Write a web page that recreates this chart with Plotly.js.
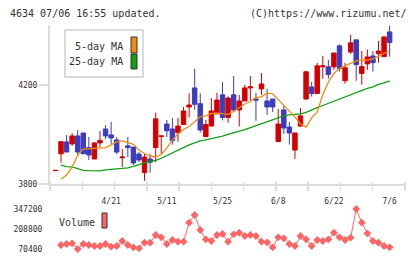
<!DOCTYPE html>
<html>
<head>
<meta charset="utf-8">
<script src="https://cdn.plot.ly/plotly-3.0.1.min.js"></script>
<style>
  html, body { margin: 0; padding: 0; background: #ffffff; }
  #chart { width: 420px; height: 259px; }
</style>
</head>
<body>
<div id="chart"></div>
<script>
// Trading days, 2020-04-07 .. 2020-07-06
const dates = [
  '4/7','4/8','4/9','4/10','4/13','4/14','4/15','4/16','4/17','4/20',
  '4/21','4/22','4/23','4/24','4/27','4/28','4/30','5/1','5/7','5/8',
  '5/11','5/12','5/13','5/14','5/15','5/18','5/19','5/20','5/21','5/22',
  '5/25','5/26','5/27','5/28','5/29','6/1','6/2','6/3','6/4','6/5',
  '6/8','6/9','6/10','6/11','6/12','6/15','6/16','6/17','6/18','6/19',
  '6/22','6/23','6/24','6/25','6/26','6/29','6/30','7/1','7/2','7/3',
  '7/6'
];

const openPx = [
  3854, 3922, 3970, 3962, 3994, 4006, 3947, 3901, 3966, 4022,
  3998, 3978, 3906, 3954, 3949, 3921, 3846, 3901, 3947, 3992,
  4042, 4022, 4007, 4040, 4111, 4188, 4124, 3991, 4034, 4083,
  4160, 4069, 4160, 4099, 4135, 4188, 4143, 4184, 4135, 4143,
  3971, 4099, 4030, 3937, 4034, 4143, 4192, 4165, 4273, 4273,
  4273, 4358, 4217, 4333, 4382, 4246, 4285, 4317, 4326, 4314,
  4414
];
const highPx = [
  3855, 3971, 3998, 4005, 4018, 4006, 3990, 3966, 4014, 4038,
  4051, 3990, 3941, 3990, 3949, 3929, 3923, 3921, 4088, 3994,
  4059, 4067, 4067, 4111, 4166, 4265, 4166, 4059, 4147, 4168,
  4212, 4154, 4236, 4160, 4200, 4236, 4168, 4248, 4184, 4143,
  4103, 4117, 4051, 4006, 4107, 4257, 4212, 4289, 4317, 4301,
  4329, 4363, 4289, 4402, 4382, 4337, 4343, 4337, 4378, 4394,
  4440
];
const lowPx = [
  3854, 3886, 3929, 3954, 3913, 3922, 3897, 3901, 3949, 3982,
  3962, 3921, 3869, 3909, 3877, 3889, 3813, 3846, 3888, 3921,
  3990, 3959, 3971, 4040, 4069, 4099, 4008, 3991, 4032, 4083,
  4057, 4048, 4092, 4032, 4135, 4137, 4055, 4160, 4079, 4091,
  3971, 4002, 3959, 3901, 4030, 4143, 4153, 4165, 4225, 4225,
  4261, 4254, 4205, 4325, 4217, 4201, 4261, 4254, 4290, 4314,
  4314
];
const closePx = [
  3855, 3971, 3929, 3994, 3929, 3922, 3917, 3966, 3976, 3994,
  3986, 3929, 3909, 3947, 3885, 3897, 3909, 3888, 4063, 3994,
  4015, 3975, 4034, 4095, 4119, 4122, 4018, 4040, 4095, 4139,
  4069, 4147, 4099, 4135, 4188, 4192, 4139, 4204, 4111, 4111,
  4042, 4026, 4006, 4006, 4075, 4253, 4165, 4277, 4277, 4242,
  4329, 4266, 4269, 4370, 4282, 4274, 4313, 4290, 4337, 4394,
  4371
];

// Moving averages
const ma5 = [
  null, 3819, 3836, 3869, 3917, 3941, 3943, 3944, 3945, 3947,
  3958, 3970, 3974, 3967, 3960, 3937, 3923, 3913, 3909, 3919,
  3945, 3978, 4002, 4020, 4032, 4051, 4071, 4075, 4085, 4086,
  4085, 4081, 4093, 4109, 4123, 4133, 4149, 4152, 4168, 4164,
  4141, 4115, 4093, 4071, 4042, 4030, 4067, 4091, 4160, 4212,
  4246, 4267, 4277, 4288, 4297, 4301, 4300, 4305, 4317, 4328,
  4335
];
const ma25 = [
  null, 3876, 3870, 3869, 3863, 3855, 3854, 3853, 3853, 3857,
  3859, 3863, 3865, 3865, 3871, 3879, 3885, 3891, 3895, 3904,
  3915, 3927, 3939, 3949, 3958, 3966, 3974, 3978, 3982, 3988,
  3993, 4000, 4006, 4014, 4020, 4028, 4036, 4046, 4053, 4061,
  4069, 4075, 4079, 4081, 4083, 4089, 4097, 4108, 4117, 4126,
  4134, 4141, 4153, 4162, 4171, 4178, 4186, 4192, 4202, 4208,
  4216
];

const volume = [
  null, 98000, 105000, 109800, 70400, 105000, 98000, 91200, 91200, 105000,
  86300, 91200, 125800, 98000, 82200, 75200, 114000, 114000, 167300, 151400,
  105000, 132700, 121000, 121000, 252400, 305700, 201900, 137500, 125800, 167300,
  174200, 121000, 172100, 183200, 160400, 167300, 160400, 121000, 116800, 82200,
  151400, 144400, 105000, 91200, 160400, 137500, 91200, 132700, 125800, 137500,
  183200, 151400, 132700, 148600, 347200, 252400, 179100, 125800, 114000, 91200,
  82200
];

const dateTicks = ['4/21', '5/11', '5/25', '6/8', '6/22', '7/6'];
const priceTicks = [3800, 4200];
const volumeTicks = [70400, 208800, 347200];

const MONO = 'DejaVu Sans Mono, monospace';
const TXT = '#333333';
const AXIS = '#dcdcdc';
const UP = '#d40000';
const DOWN = '#3c3cbe';
const ORANGE = '#f08c10';
const GREEN = '#12a012';
const VOLC = '#ff6464';

const xRange = [-0.975, 62.76];

const traces = [
  {
    type: 'candlestick',
    x: dates, open: openPx, high: highPx, low: lowPx, close: closePx,
    xaxis: 'x', yaxis: 'y',
    increasing: { line: { color: UP, width: 1 }, fillcolor: UP },
    decreasing: { line: { color: DOWN, width: 1 }, fillcolor: DOWN },
    whiskerwidth: 0,
    hoverinfo: 'skip'
  },
  {
    type: 'scatter', mode: 'lines', x: dates, y: ma25,
    xaxis: 'x', yaxis: 'y',
    line: { color: GREEN, width: 1.3 }, hoverinfo: 'skip'
  },
  {
    type: 'scatter', mode: 'lines', x: dates, y: ma5,
    xaxis: 'x', yaxis: 'y',
    line: { color: ORANGE, width: 1.3 }, hoverinfo: 'skip'
  },
  {
    type: 'scatter', mode: 'lines+markers', x: dates, y: volume,
    xaxis: 'x2', yaxis: 'y2',
    line: { color: VOLC, width: 1 },
    marker: { symbol: 'diamond', size: 6, color: VOLC },
    hoverinfo: 'skip'
  },
  // carrier for the evenly spaced tick marks on the price axis
  { type: 'scatter', x: [], y: [], xaxis: 'x3', yaxis: 'y', hoverinfo: 'skip' }
];

// paper helpers: plot area is 355 x 230 px, origin at (50, 255)
const px = v => (v - 50) / 355;
const py = v => (255 - v) / 230;

const layout = {
  width: 420, height: 259,
  margin: { l: 50, r: 15, t: 25, b: 4 },
  paper_bgcolor: '#ffffff', plot_bgcolor: '#ffffff',
  showlegend: false,
  boxgap: 0.2,
  boxgroupgap: 0,
  xaxis: {
    type: 'category', categoryorder: 'array', categoryarray: dates,
    range: xRange, domain: [0, 1], anchor: 'y',
    showline: true, linecolor: AXIS, linewidth: 2,
    showgrid: false, zeroline: false,
    tickmode: 'array', tickvals: dateTicks, ticktext: dateTicks,
    ticks: 'outside', ticklen: 8, tickcolor: 'rgba(0,0,0,0)',
    tickfont: { family: MONO, size: 8, color: TXT },
    rangeslider: { visible: false }, fixedrange: true
  },
  yaxis: {
    domain: [py(184), 1], range: [3800, 4442], anchor: 'x',
    showline: true, linecolor: AXIS, linewidth: 2,
    showgrid: false, zeroline: false,
    tickmode: 'array', tickvals: priceTicks, ticktext: priceTicks.map(String),
    ticks: 'outside', ticklen: 9, tickwidth: 1.5, tickcolor: AXIS,
    tickfont: { family: MONO, size: 8, color: TXT },
    fixedrange: true
  },
  xaxis2: {
    type: 'category', categoryorder: 'array', categoryarray: dates,
    range: xRange, domain: [0, 1], anchor: 'y2',
    showline: false, showgrid: false, zeroline: false,
    showticklabels: false, ticks: '', fixedrange: true
  },
  yaxis2: {
    domain: [0, py(200)], range: [28880, 409480], anchor: 'x2',
    showline: false, showgrid: false, zeroline: false,
    tickmode: 'array', tickvals: volumeTicks, ticktext: volumeTicks.map(String),
    ticks: 'outside', ticklen: 5, tickcolor: 'rgba(0,0,0,0)',
    tickfont: { family: MONO, size: 8, color: TXT },
    fixedrange: true
  },
  xaxis3: {
    overlaying: 'x', anchor: 'free', position: py(181),
    range: [0, 11], tickmode: 'linear', tick0: 0, dtick: 1,
    ticks: 'outside', ticklen: 9, tickwidth: 1.5, tickcolor: AXIS,
    showticklabels: false, showline: false, showgrid: false, zeroline: false,
    fixedrange: true
  },
  shapes: [
    // MA legend box
    { type: 'rect', xref: 'paper', yref: 'paper',
      x0: px(65), x1: px(143), y0: py(77), y1: py(30),
      line: { color: '#d0d0d0', width: 1.5 }, fillcolor: '#ffffff' },
    { type: 'rect', xref: 'paper', yref: 'paper',
      x0: px(131), x1: px(137), y0: py(53), y1: py(37),
      line: { color: '#333333', width: 1 }, fillcolor: ORANGE },
    { type: 'rect', xref: 'paper', yref: 'paper',
      x0: px(131), x1: px(137), y0: py(69), y1: py(54),
      line: { color: '#333333', width: 1 }, fillcolor: GREEN },
    // volume key
    { type: 'rect', xref: 'paper', yref: 'paper',
      x0: px(102), x1: px(107), y0: py(228), y1: py(213),
      line: { color: '#333333', width: 1 }, fillcolor: VOLC }
  ],
  annotations: [
    { xref: 'paper', yref: 'paper', x: px(8), y: py(13), xanchor: 'left', yanchor: 'middle',
      text: '4634 07/06 16:55 updated.', showarrow: false,
      font: { family: MONO, size: 10, color: TXT } },
    { xref: 'paper', yref: 'paper', x: px(409), y: py(13), xanchor: 'right', yanchor: 'middle',
      text: '(C)https://www.rizumu.net/', showarrow: false,
      font: { family: MONO, size: 10, color: TXT } },
    { xref: 'paper', yref: 'paper', x: px(125), y: py(46), xanchor: 'right', yanchor: 'middle',
      text: '5-day MA', showarrow: false,
      font: { family: MONO, size: 10, color: TXT } },
    { xref: 'paper', yref: 'paper', x: px(125), y: py(62), xanchor: 'right', yanchor: 'middle',
      text: '25-day MA', showarrow: false,
      font: { family: MONO, size: 10, color: TXT } },
    { xref: 'paper', yref: 'paper', x: px(57), y: py(222), xanchor: 'left', yanchor: 'middle',
      text: 'Volume', showarrow: false,
      font: { family: MONO, size: 10, color: TXT } }
  ]
};

Plotly.newPlot('chart', traces, layout, { staticPlot: true, displayModeBar: false });
</script>
</body>
</html>
